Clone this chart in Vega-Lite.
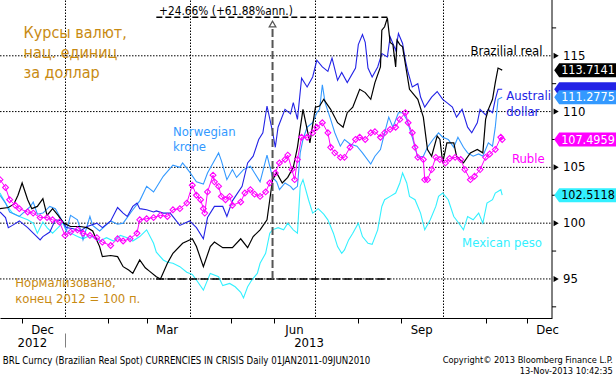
{
 "$schema": "https://vega.github.io/schema/vega-lite/v6.json",
 "width": 552, "height": 318,
 "autosize": {"type": "none"},
 "padding": {"left": 0, "top": 0, "right": 64, "bottom": 62},
 "background": "white",
 "config": {"font": "'DejaVu Sans Condensed', 'DejaVu Sans', sans-serif", "view": {"stroke": null}},
 "resolve": {"axis": {"x": "independent"}},
 "datasets": {
  "ts": [
   {"s":"MXN","d":"2012-11-15","v":102.7},{"s":"MXN","d":"2012-11-19","v":101.8},{"s":"MXN","d":"2012-11-21","v":101.4},{"s":"MXN","d":"2012-11-24","v":100.9},{"s":"MXN","d":"2012-11-29","v":100.6},{"s":"MXN","d":"2012-12-05","v":100.3},{"s":"MXN","d":"2012-12-09","v":100.0},{"s":"MXN","d":"2012-12-12","v":99.1},{"s":"MXN","d":"2012-12-16","v":100.1},{"s":"MXN","d":"2012-12-19","v":99.6},{"s":"MXN","d":"2012-12-23","v":99.1},{"s":"MXN","d":"2012-12-27","v":99.6},{"s":"MXN","d":"2012-12-31","v":100.1},{"s":"MXN","d":"2013-01-02","v":99.3},{"s":"MXN","d":"2013-01-10","v":98.8},{"s":"MXN","d":"2013-01-14","v":98.6},{"s":"MXN","d":"2013-01-19","v":98.9},{"s":"MXN","d":"2013-01-26","v":98.4},{"s":"MXN","d":"2013-01-31","v":98.7},{"s":"MXN","d":"2013-02-05","v":98.4},{"s":"MXN","d":"2013-02-10","v":98.9},{"s":"MXN","d":"2013-02-15","v":98.7},{"s":"MXN","d":"2013-02-19","v":98.4},{"s":"MXN","d":"2013-02-24","v":98.8},{"s":"MXN","d":"2013-03-01","v":99.4},{"s":"MXN","d":"2013-03-06","v":98.2},{"s":"MXN","d":"2013-03-08","v":97.4},{"s":"MXN","d":"2013-03-13","v":96.7},{"s":"MXN","d":"2013-03-16","v":96.5},{"s":"MXN","d":"2013-03-20","v":96.4},{"s":"MXN","d":"2013-03-25","v":96.1},{"s":"MXN","d":"2013-03-30","v":95.6},{"s":"MXN","d":"2013-04-03","v":95.4},{"s":"MXN","d":"2013-04-06","v":94.9},{"s":"MXN","d":"2013-04-11","v":94.0},{"s":"MXN","d":"2013-04-16","v":95.5},{"s":"MXN","d":"2013-04-22","v":95.2},{"s":"MXN","d":"2013-04-25","v":94.4},{"s":"MXN","d":"2013-04-30","v":94.6},{"s":"MXN","d":"2013-05-04","v":94.3},{"s":"MXN","d":"2013-05-08","v":93.8},{"s":"MXN","d":"2013-05-10","v":93.3},{"s":"MXN","d":"2013-05-13","v":94.3},{"s":"MXN","d":"2013-05-16","v":94.9},{"s":"MXN","d":"2013-05-20","v":95.5},{"s":"MXN","d":"2013-05-22","v":96.4},{"s":"MXN","d":"2013-05-26","v":97.3},{"s":"MXN","d":"2013-05-29","v":99.1},{"s":"MXN","d":"2013-05-31","v":99.4},{"s":"MXN","d":"2013-06-04","v":99.6},{"s":"MXN","d":"2013-06-08","v":99.4},{"s":"MXN","d":"2013-06-11","v":100.0},{"s":"MXN","d":"2013-06-15","v":99.4},{"s":"MXN","d":"2013-06-18","v":99.1},{"s":"MXN","d":"2013-06-20","v":103.3},{"s":"MXN","d":"2013-06-22","v":103.9},{"s":"MXN","d":"2013-06-26","v":102.1},{"s":"MXN","d":"2013-06-29","v":100.9},{"s":"MXN","d":"2013-07-03","v":101.3},{"s":"MXN","d":"2013-07-07","v":100.8},{"s":"MXN","d":"2013-07-10","v":100.3},{"s":"MXN","d":"2013-07-14","v":99.1},{"s":"MXN","d":"2013-07-17","v":97.9},{"s":"MXN","d":"2013-07-20","v":97.3},{"s":"MXN","d":"2013-07-22","v":97.6},{"s":"MXN","d":"2013-07-25","v":98.5},{"s":"MXN","d":"2013-07-28","v":99.1},{"s":"MXN","d":"2013-08-01","v":100.0},{"s":"MXN","d":"2013-08-04","v":98.8},{"s":"MXN","d":"2013-08-08","v":98.2},{"s":"MXN","d":"2013-08-11","v":98.1},{"s":"MXN","d":"2013-08-15","v":99.4},{"s":"MXN","d":"2013-08-18","v":101.5},{"s":"MXN","d":"2013-08-20","v":102.1},{"s":"MXN","d":"2013-08-24","v":102.4},{"s":"MXN","d":"2013-08-28","v":102.7},{"s":"MXN","d":"2013-08-31","v":103.6},{"s":"MXN","d":"2013-09-02","v":104.5},{"s":"MXN","d":"2013-09-05","v":103.6},{"s":"MXN","d":"2013-09-07","v":102.4},{"s":"MXN","d":"2013-09-11","v":102.1},{"s":"MXN","d":"2013-09-15","v":100.9},{"s":"MXN","d":"2013-09-18","v":99.4},{"s":"MXN","d":"2013-09-22","v":100.3},{"s":"MXN","d":"2013-09-26","v":101.5},{"s":"MXN","d":"2013-09-28","v":102.4},{"s":"MXN","d":"2013-10-01","v":102.7},{"s":"MXN","d":"2013-10-05","v":102.1},{"s":"MXN","d":"2013-10-09","v":100.6},{"s":"MXN","d":"2013-10-12","v":100.1},{"s":"MXN","d":"2013-10-16","v":99.4},{"s":"MXN","d":"2013-10-19","v":100.6},{"s":"MXN","d":"2013-10-23","v":100.3},{"s":"MXN","d":"2013-10-27","v":100.9},{"s":"MXN","d":"2013-10-30","v":100.0},{"s":"MXN","d":"2013-11-02","v":101.8},{"s":"MXN","d":"2013-11-06","v":102.1},{"s":"MXN","d":"2013-11-08","v":102.7},{"s":"MXN","d":"2013-11-12","v":103.0},{"s":"MXN","d":"2013-11-13","v":102.5118},

   {"s":"NOK","d":"2012-11-15","v":102.5},{"s":"NOK","d":"2012-11-19","v":101.8},{"s":"NOK","d":"2012-11-22","v":101.0},{"s":"NOK","d":"2012-11-29","v":100.6},{"s":"NOK","d":"2012-12-07","v":101.5},{"s":"NOK","d":"2012-12-09","v":101.9},{"s":"NOK","d":"2012-12-12","v":100.8},{"s":"NOK","d":"2012-12-16","v":100.9},{"s":"NOK","d":"2012-12-21","v":101.5},{"s":"NOK","d":"2012-12-25","v":101.3},{"s":"NOK","d":"2012-12-30","v":100.2},{"s":"NOK","d":"2013-01-02","v":99.3},{"s":"NOK","d":"2013-01-05","v":100.7},{"s":"NOK","d":"2013-01-10","v":100.3},{"s":"NOK","d":"2013-01-12","v":99.5},{"s":"NOK","d":"2013-01-14","v":98.5},{"s":"NOK","d":"2013-01-19","v":100.6},{"s":"NOK","d":"2013-01-21","v":99.8},{"s":"NOK","d":"2013-01-26","v":99.3},{"s":"NOK","d":"2013-02-03","v":100.2},{"s":"NOK","d":"2013-02-08","v":99.9},{"s":"NOK","d":"2013-02-12","v":100.0},{"s":"NOK","d":"2013-02-19","v":101.2},{"s":"NOK","d":"2013-02-24","v":102.0},{"s":"NOK","d":"2013-03-01","v":103.3},{"s":"NOK","d":"2013-03-06","v":102.8},{"s":"NOK","d":"2013-03-13","v":104.2},{"s":"NOK","d":"2013-03-20","v":105.2},{"s":"NOK","d":"2013-03-25","v":105.0},{"s":"NOK","d":"2013-03-27","v":105.4},{"s":"NOK","d":"2013-04-01","v":104.6},{"s":"NOK","d":"2013-04-06","v":103.7},{"s":"NOK","d":"2013-04-11","v":103.5},{"s":"NOK","d":"2013-04-14","v":104.5},{"s":"NOK","d":"2013-04-18","v":105.4},{"s":"NOK","d":"2013-04-22","v":106.3},{"s":"NOK","d":"2013-04-24","v":105.6},{"s":"NOK","d":"2013-04-28","v":103.9},{"s":"NOK","d":"2013-05-02","v":104.8},{"s":"NOK","d":"2013-05-05","v":104.1},{"s":"NOK","d":"2013-05-10","v":104.8},{"s":"NOK","d":"2013-05-15","v":105.1},{"s":"NOK","d":"2013-05-18","v":104.5},{"s":"NOK","d":"2013-05-22","v":103.7},{"s":"NOK","d":"2013-05-27","v":106.1},{"s":"NOK","d":"2013-05-31","v":104.1},{"s":"NOK","d":"2013-06-03","v":103.7},{"s":"NOK","d":"2013-06-05","v":103.0},{"s":"NOK","d":"2013-06-09","v":103.6},{"s":"NOK","d":"2013-06-13","v":103.3},{"s":"NOK","d":"2013-06-15","v":103.0},{"s":"NOK","d":"2013-06-18","v":103.3},{"s":"NOK","d":"2013-06-20","v":106.3},{"s":"NOK","d":"2013-06-22","v":107.5},{"s":"NOK","d":"2013-06-25","v":108.6},{"s":"NOK","d":"2013-06-29","v":109.0},{"s":"NOK","d":"2013-07-02","v":109.9},{"s":"NOK","d":"2013-07-04","v":110.2},{"s":"NOK","d":"2013-07-06","v":112.4},{"s":"NOK","d":"2013-07-08","v":110.8},{"s":"NOK","d":"2013-07-12","v":109.3},{"s":"NOK","d":"2013-07-15","v":108.1},{"s":"NOK","d":"2013-07-19","v":106.9},{"s":"NOK","d":"2013-07-22","v":107.5},{"s":"NOK","d":"2013-07-26","v":107.1},{"s":"NOK","d":"2013-07-31","v":106.9},{"s":"NOK","d":"2013-08-04","v":106.3},{"s":"NOK","d":"2013-08-10","v":105.3},{"s":"NOK","d":"2013-08-13","v":106.0},{"s":"NOK","d":"2013-08-17","v":106.6},{"s":"NOK","d":"2013-08-20","v":108.1},{"s":"NOK","d":"2013-08-23","v":109.5},{"s":"NOK","d":"2013-08-26","v":108.6},{"s":"NOK","d":"2013-08-30","v":109.9},{"s":"NOK","d":"2013-09-02","v":109.9},{"s":"NOK","d":"2013-09-05","v":109.3},{"s":"NOK","d":"2013-09-09","v":107.7},{"s":"NOK","d":"2013-09-11","v":106.8},{"s":"NOK","d":"2013-09-13","v":105.9},{"s":"NOK","d":"2013-09-17","v":106.0},{"s":"NOK","d":"2013-09-20","v":106.8},{"s":"NOK","d":"2013-09-24","v":107.5},{"s":"NOK","d":"2013-09-28","v":108.1},{"s":"NOK","d":"2013-10-01","v":107.7},{"s":"NOK","d":"2013-10-05","v":107.5},{"s":"NOK","d":"2013-10-09","v":106.8},{"s":"NOK","d":"2013-10-12","v":107.7},{"s":"NOK","d":"2013-10-16","v":106.8},{"s":"NOK","d":"2013-10-19","v":106.3},{"s":"NOK","d":"2013-10-23","v":106.0},{"s":"NOK","d":"2013-10-27","v":106.2},{"s":"NOK","d":"2013-10-30","v":106.0},{"s":"NOK","d":"2013-11-03","v":107.2},{"s":"NOK","d":"2013-11-06","v":106.9},{"s":"NOK","d":"2013-11-08","v":108.6},{"s":"NOK","d":"2013-11-10","v":111.1},{"s":"NOK","d":"2013-11-13","v":111.2775},

   {"s":"AUD","d":"2012-11-15","v":101.0},{"s":"AUD","d":"2012-11-19","v":100.5},{"s":"AUD","d":"2012-11-21","v":99.6},{"s":"AUD","d":"2012-11-24","v":99.8},{"s":"AUD","d":"2012-11-29","v":100.2},{"s":"AUD","d":"2012-12-05","v":99.6},{"s":"AUD","d":"2012-12-09","v":99.1},{"s":"AUD","d":"2012-12-14","v":98.5},{"s":"AUD","d":"2012-12-16","v":98.8},{"s":"AUD","d":"2012-12-21","v":99.2},{"s":"AUD","d":"2012-12-25","v":100.3},{"s":"AUD","d":"2012-12-30","v":100.2},{"s":"AUD","d":"2013-01-02","v":99.6},{"s":"AUD","d":"2013-01-07","v":99.5},{"s":"AUD","d":"2013-01-12","v":99.3},{"s":"AUD","d":"2013-01-17","v":99.7},{"s":"AUD","d":"2013-01-24","v":100.0},{"s":"AUD","d":"2013-01-28","v":99.6},{"s":"AUD","d":"2013-02-03","v":100.2},{"s":"AUD","d":"2013-02-08","v":101.4},{"s":"AUD","d":"2013-02-12","v":100.9},{"s":"AUD","d":"2013-02-15","v":100.6},{"s":"AUD","d":"2013-02-19","v":101.5},{"s":"AUD","d":"2013-02-22","v":101.8},{"s":"AUD","d":"2013-02-24","v":101.3},{"s":"AUD","d":"2013-03-01","v":101.2},{"s":"AUD","d":"2013-03-06","v":101.0},{"s":"AUD","d":"2013-03-08","v":101.1},{"s":"AUD","d":"2013-03-13","v":100.9},{"s":"AUD","d":"2013-03-18","v":100.9},{"s":"AUD","d":"2013-03-25","v":99.8},{"s":"AUD","d":"2013-04-01","v":100.2},{"s":"AUD","d":"2013-04-06","v":99.6},{"s":"AUD","d":"2013-04-11","v":98.6},{"s":"AUD","d":"2013-04-14","v":100.5},{"s":"AUD","d":"2013-04-19","v":101.5},{"s":"AUD","d":"2013-04-25","v":101.5},{"s":"AUD","d":"2013-04-28","v":100.6},{"s":"AUD","d":"2013-05-02","v":102.0},{"s":"AUD","d":"2013-05-09","v":103.3},{"s":"AUD","d":"2013-05-13","v":105.4},{"s":"AUD","d":"2013-05-17","v":106.0},{"s":"AUD","d":"2013-05-21","v":107.5},{"s":"AUD","d":"2013-05-24","v":108.1},{"s":"AUD","d":"2013-05-27","v":110.5},{"s":"AUD","d":"2013-05-31","v":108.2},{"s":"AUD","d":"2013-06-02","v":106.8},{"s":"AUD","d":"2013-06-04","v":108.6},{"s":"AUD","d":"2013-06-09","v":110.2},{"s":"AUD","d":"2013-06-13","v":109.8},{"s":"AUD","d":"2013-06-15","v":110.8},{"s":"AUD","d":"2013-06-18","v":109.3},{"s":"AUD","d":"2013-06-21","v":113.0},{"s":"AUD","d":"2013-06-25","v":112.2},{"s":"AUD","d":"2013-06-29","v":113.1},{"s":"AUD","d":"2013-07-02","v":114.6},{"s":"AUD","d":"2013-07-06","v":114.0},{"s":"AUD","d":"2013-07-10","v":113.6},{"s":"AUD","d":"2013-07-13","v":114.8},{"s":"AUD","d":"2013-07-17","v":112.8},{"s":"AUD","d":"2013-07-20","v":113.5},{"s":"AUD","d":"2013-07-24","v":112.6},{"s":"AUD","d":"2013-07-30","v":113.9},{"s":"AUD","d":"2013-08-01","v":116.0},{"s":"AUD","d":"2013-08-04","v":116.9},{"s":"AUD","d":"2013-08-06","v":116.2},{"s":"AUD","d":"2013-08-08","v":113.9},{"s":"AUD","d":"2013-08-11","v":113.1},{"s":"AUD","d":"2013-08-15","v":114.0},{"s":"AUD","d":"2013-08-18","v":115.2},{"s":"AUD","d":"2013-08-22","v":114.9},{"s":"AUD","d":"2013-08-24","v":116.7},{"s":"AUD","d":"2013-08-28","v":115.5},{"s":"AUD","d":"2013-08-30","v":117.0},{"s":"AUD","d":"2013-09-02","v":116.1},{"s":"AUD","d":"2013-09-04","v":114.6},{"s":"AUD","d":"2013-09-06","v":113.5},{"s":"AUD","d":"2013-09-09","v":112.2},{"s":"AUD","d":"2013-09-13","v":112.5},{"s":"AUD","d":"2013-09-15","v":111.3},{"s":"AUD","d":"2013-09-18","v":110.4},{"s":"AUD","d":"2013-09-23","v":111.3},{"s":"AUD","d":"2013-09-27","v":111.8},{"s":"AUD","d":"2013-10-01","v":111.1},{"s":"AUD","d":"2013-10-04","v":110.8},{"s":"AUD","d":"2013-10-08","v":110.4},{"s":"AUD","d":"2013-10-11","v":109.5},{"s":"AUD","d":"2013-10-15","v":110.2},{"s":"AUD","d":"2013-10-19","v":108.6},{"s":"AUD","d":"2013-10-22","v":108.1},{"s":"AUD","d":"2013-10-26","v":109.0},{"s":"AUD","d":"2013-10-28","v":110.2},{"s":"AUD","d":"2013-11-01","v":109.7},{"s":"AUD","d":"2013-11-03","v":110.2},{"s":"AUD","d":"2013-11-06","v":109.9},{"s":"AUD","d":"2013-11-08","v":111.1},{"s":"AUD","d":"2013-11-10","v":112.0},{"s":"AUD","d":"2013-11-13","v":112.0},

   {"s":"BRL","d":"2012-11-15","v":101.3},{"s":"BRL","d":"2012-11-21","v":101.4},{"s":"BRL","d":"2012-11-25","v":101.7},{"s":"BRL","d":"2012-11-28","v":102.5},{"s":"BRL","d":"2012-12-01","v":103.6},{"s":"BRL","d":"2012-12-05","v":102.1},{"s":"BRL","d":"2012-12-08","v":101.3},{"s":"BRL","d":"2012-12-12","v":101.5},{"s":"BRL","d":"2012-12-16","v":102.2},{"s":"BRL","d":"2012-12-19","v":100.7},{"s":"BRL","d":"2012-12-23","v":101.3},{"s":"BRL","d":"2012-12-27","v":100.7},{"s":"BRL","d":"2012-12-31","v":100.0},{"s":"BRL","d":"2013-01-05","v":99.7},{"s":"BRL","d":"2013-01-12","v":99.7},{"s":"BRL","d":"2013-01-17","v":99.6},{"s":"BRL","d":"2013-01-21","v":99.3},{"s":"BRL","d":"2013-01-26","v":97.9},{"s":"BRL","d":"2013-01-28","v":97.0},{"s":"BRL","d":"2013-02-03","v":97.1},{"s":"BRL","d":"2013-02-08","v":97.0},{"s":"BRL","d":"2013-02-12","v":96.1},{"s":"BRL","d":"2013-02-16","v":95.8},{"s":"BRL","d":"2013-02-19","v":95.5},{"s":"BRL","d":"2013-02-24","v":96.7},{"s":"BRL","d":"2013-02-28","v":96.0},{"s":"BRL","d":"2013-03-03","v":95.7},{"s":"BRL","d":"2013-03-08","v":95.2},{"s":"BRL","d":"2013-03-11","v":95.0},{"s":"BRL","d":"2013-03-16","v":96.4},{"s":"BRL","d":"2013-03-20","v":97.3},{"s":"BRL","d":"2013-03-27","v":98.2},{"s":"BRL","d":"2013-04-03","v":98.6},{"s":"BRL","d":"2013-04-06","v":97.9},{"s":"BRL","d":"2013-04-11","v":96.1},{"s":"BRL","d":"2013-04-16","v":97.9},{"s":"BRL","d":"2013-04-19","v":98.3},{"s":"BRL","d":"2013-04-25","v":97.8},{"s":"BRL","d":"2013-05-02","v":97.8},{"s":"BRL","d":"2013-05-08","v":98.6},{"s":"BRL","d":"2013-05-13","v":97.8},{"s":"BRL","d":"2013-05-17","v":98.8},{"s":"BRL","d":"2013-05-22","v":99.4},{"s":"BRL","d":"2013-05-27","v":100.3},{"s":"BRL","d":"2013-05-29","v":102.1},{"s":"BRL","d":"2013-05-31","v":103.9},{"s":"BRL","d":"2013-06-03","v":104.5},{"s":"BRL","d":"2013-06-07","v":103.6},{"s":"BRL","d":"2013-06-11","v":104.1},{"s":"BRL","d":"2013-06-15","v":105.0},{"s":"BRL","d":"2013-06-18","v":106.8},{"s":"BRL","d":"2013-06-22","v":110.2},{"s":"BRL","d":"2013-06-25","v":108.4},{"s":"BRL","d":"2013-06-27","v":107.2},{"s":"BRL","d":"2013-07-01","v":110.4},{"s":"BRL","d":"2013-07-04","v":110.5},{"s":"BRL","d":"2013-07-07","v":111.1},{"s":"BRL","d":"2013-07-12","v":110.2},{"s":"BRL","d":"2013-07-17","v":109.0},{"s":"BRL","d":"2013-07-21","v":108.6},{"s":"BRL","d":"2013-07-24","v":109.9},{"s":"BRL","d":"2013-07-28","v":110.4},{"s":"BRL","d":"2013-08-02","v":112.0},{"s":"BRL","d":"2013-08-06","v":111.7},{"s":"BRL","d":"2013-08-10","v":111.1},{"s":"BRL","d":"2013-08-13","v":112.6},{"s":"BRL","d":"2013-08-17","v":114.0},{"s":"BRL","d":"2013-08-18","v":117.3},{"s":"BRL","d":"2013-08-20","v":117.6},{"s":"BRL","d":"2013-08-22","v":118.4},{"s":"BRL","d":"2013-08-24","v":116.2},{"s":"BRL","d":"2013-08-26","v":116.0},{"s":"BRL","d":"2013-08-28","v":114.0},{"s":"BRL","d":"2013-08-29","v":116.4},{"s":"BRL","d":"2013-08-31","v":116.0},{"s":"BRL","d":"2013-09-02","v":115.8},{"s":"BRL","d":"2013-09-05","v":113.5},{"s":"BRL","d":"2013-09-07","v":112.0},{"s":"BRL","d":"2013-09-13","v":111.1},{"s":"BRL","d":"2013-09-17","v":109.5},{"s":"BRL","d":"2013-09-20","v":106.6},{"s":"BRL","d":"2013-09-23","v":106.0},{"s":"BRL","d":"2013-09-27","v":107.8},{"s":"BRL","d":"2013-09-29","v":107.5},{"s":"BRL","d":"2013-10-01","v":105.4},{"s":"BRL","d":"2013-10-04","v":107.2},{"s":"BRL","d":"2013-10-09","v":107.2},{"s":"BRL","d":"2013-10-11","v":106.0},{"s":"BRL","d":"2013-10-16","v":105.4},{"s":"BRL","d":"2013-10-21","v":106.3},{"s":"BRL","d":"2013-10-26","v":106.6},{"s":"BRL","d":"2013-10-30","v":106.3},{"s":"BRL","d":"2013-11-01","v":109.3},{"s":"BRL","d":"2013-11-03","v":110.2},{"s":"BRL","d":"2013-11-06","v":111.1},{"s":"BRL","d":"2013-11-08","v":112.6},{"s":"BRL","d":"2013-11-10","v":113.9},{"s":"BRL","d":"2013-11-13","v":113.7141},

   {"s":"RUB","d":"2012-11-15","v":103.9},{"s":"RUB","d":"2012-11-19","v":103.2},{"s":"RUB","d":"2012-11-22","v":102.1},{"s":"RUB","d":"2012-11-26","v":101.6},{"s":"RUB","d":"2012-11-29","v":101.3},{"s":"RUB","d":"2012-12-05","v":101.0},{"s":"RUB","d":"2012-12-09","v":100.9},{"s":"RUB","d":"2012-12-14","v":100.5},{"s":"RUB","d":"2012-12-19","v":100.5},{"s":"RUB","d":"2012-12-23","v":100.3},{"s":"RUB","d":"2012-12-28","v":100.1},{"s":"RUB","d":"2013-01-01","v":98.9},{"s":"RUB","d":"2013-01-05","v":99.2},{"s":"RUB","d":"2013-01-10","v":99.4},{"s":"RUB","d":"2013-01-14","v":99.1},{"s":"RUB","d":"2013-01-19","v":98.9},{"s":"RUB","d":"2013-01-24","v":98.7},{"s":"RUB","d":"2013-01-28","v":98.3},{"s":"RUB","d":"2013-02-03","v":98.0},{"s":"RUB","d":"2013-02-08","v":98.6},{"s":"RUB","d":"2013-02-12","v":98.4},{"s":"RUB","d":"2013-02-17","v":98.6},{"s":"RUB","d":"2013-02-22","v":99.1},{"s":"RUB","d":"2013-02-24","v":100.3},{"s":"RUB","d":"2013-03-01","v":100.4},{"s":"RUB","d":"2013-03-06","v":100.5},{"s":"RUB","d":"2013-03-11","v":100.7},{"s":"RUB","d":"2013-03-16","v":100.6},{"s":"RUB","d":"2013-03-20","v":101.2},{"s":"RUB","d":"2013-03-25","v":101.3},{"s":"RUB","d":"2013-03-30","v":101.8},{"s":"RUB","d":"2013-04-03","v":103.4},{"s":"RUB","d":"2013-04-06","v":102.5},{"s":"RUB","d":"2013-04-09","v":102.1},{"s":"RUB","d":"2013-04-11","v":101.3},{"s":"RUB","d":"2013-04-12","v":100.9},{"s":"RUB","d":"2013-04-14","v":102.8},{"s":"RUB","d":"2013-04-18","v":104.3},{"s":"RUB","d":"2013-04-19","v":103.7},{"s":"RUB","d":"2013-04-22","v":103.3},{"s":"RUB","d":"2013-04-24","v":102.4},{"s":"RUB","d":"2013-04-27","v":102.1},{"s":"RUB","d":"2013-04-30","v":102.4},{"s":"RUB","d":"2013-05-02","v":101.6},{"s":"RUB","d":"2013-05-08","v":101.9},{"s":"RUB","d":"2013-05-11","v":102.7},{"s":"RUB","d":"2013-05-15","v":103.0},{"s":"RUB","d":"2013-05-18","v":102.6},{"s":"RUB","d":"2013-05-22","v":102.4},{"s":"RUB","d":"2013-05-26","v":102.8},{"s":"RUB","d":"2013-05-29","v":103.6},{"s":"RUB","d":"2013-06-02","v":104.5},{"s":"RUB","d":"2013-06-05","v":105.4},{"s":"RUB","d":"2013-06-09","v":105.7},{"s":"RUB","d":"2013-06-11","v":106.1},{"s":"RUB","d":"2013-06-14","v":104.8},{"s":"RUB","d":"2013-06-16","v":103.9},{"s":"RUB","d":"2013-06-18","v":105.7},{"s":"RUB","d":"2013-06-21","v":107.7},{"s":"RUB","d":"2013-06-25","v":107.7},{"s":"RUB","d":"2013-06-29","v":108.1},{"s":"RUB","d":"2013-07-02","v":108.6},{"s":"RUB","d":"2013-07-06","v":109.0},{"s":"RUB","d":"2013-07-10","v":108.1},{"s":"RUB","d":"2013-07-12","v":106.8},{"s":"RUB","d":"2013-07-15","v":106.3},{"s":"RUB","d":"2013-07-19","v":105.9},{"s":"RUB","d":"2013-07-22","v":105.9},{"s":"RUB","d":"2013-07-26","v":106.8},{"s":"RUB","d":"2013-07-30","v":107.5},{"s":"RUB","d":"2013-08-02","v":107.7},{"s":"RUB","d":"2013-08-06","v":107.5},{"s":"RUB","d":"2013-08-10","v":108.1},{"s":"RUB","d":"2013-08-13","v":108.2},{"s":"RUB","d":"2013-08-17","v":107.7},{"s":"RUB","d":"2013-08-20","v":108.1},{"s":"RUB","d":"2013-08-24","v":108.4},{"s":"RUB","d":"2013-08-28","v":108.6},{"s":"RUB","d":"2013-08-31","v":109.3},{"s":"RUB","d":"2013-09-04","v":109.9},{"s":"RUB","d":"2013-09-06","v":109.0},{"s":"RUB","d":"2013-09-09","v":108.1},{"s":"RUB","d":"2013-09-11","v":106.8},{"s":"RUB","d":"2013-09-13","v":105.9},{"s":"RUB","d":"2013-09-17","v":105.7},{"s":"RUB","d":"2013-09-18","v":103.9},{"s":"RUB","d":"2013-09-20","v":103.9},{"s":"RUB","d":"2013-09-23","v":104.8},{"s":"RUB","d":"2013-09-26","v":105.9},{"s":"RUB","d":"2013-09-29","v":105.7},{"s":"RUB","d":"2013-10-03","v":105.4},{"s":"RUB","d":"2013-10-06","v":105.8},{"s":"RUB","d":"2013-10-10","v":105.9},{"s":"RUB","d":"2013-10-14","v":105.7},{"s":"RUB","d":"2013-10-17","v":104.8},{"s":"RUB","d":"2013-10-21","v":103.9},{"s":"RUB","d":"2013-10-24","v":104.2},{"s":"RUB","d":"2013-10-28","v":104.8},{"s":"RUB","d":"2013-11-01","v":105.9},{"s":"RUB","d":"2013-11-04","v":106.2},{"s":"RUB","d":"2013-11-08","v":106.6},{"s":"RUB","d":"2013-11-12","v":107.7},{"s":"RUB","d":"2013-11-13","v":107.4959}
  ],
  "tags": [
   {"s":"AUD","v":112.0},{"s":"BRL","v":113.7141},{"s":"NOK","v":111.2775},{"s":"RUB","v":107.4959},{"s":"MXN","v":102.5118}
  ],
  "ymaj": [{"v":95},{"v":100},{"v":105},{"v":110},{"v":115}],
  "ymin": [{"v":92.5},{"v":97.5},{"v":102.5},{"v":107.5},{"v":112.5},{"v":117.5}]
 },
 "layer": [
  {
   "data": {"name": "ymaj"},
   "mark": {"type": "rule", "color": "black", "strokeWidth": 1, "strokeDash": [1.5, 1.5]},
   "encoding": {
    "x": {"datum": {"year":2012,"month":11,"date":15,"utc":true}, "type": "temporal", "axis": null,
     "scale": {"type": "utc", "nice": false, "domain": [{"year":2012,"month":11,"date":15,"utc":true},{"year":2013,"month":12,"date":19,"utc":true}]}},
    "x2": {"datum": {"year":2013,"month":12,"date":19,"utc":true}},
    "y": {"field": "v", "type": "quantitative", "axis": null,
     "scale": {"domain": [91.5, 120], "nice": false, "zero": false}}
   }
  },
  {
   "data": {"name": "ts"},
   "transform": [{"filter": "datum.s == 'MXN'"}],
   "mark": {"type": "line", "strokeWidth": 1.1},
   "encoding": {
    "x": {"field": "d", "type": "temporal",
     "axis": {"orient": "bottom", "offset": 15, "title": null, "domain": false, "grid": false,
      "values": [{"year":2012,"month":12,"date":8,"utc":true},{"year":2013,"month":1,"date":1,"utc":true},{"year":2013,"month":6,"date":26,"utc":true}],
      "labelExpr": "(utcmonth(datum.value) == 0 && utcdate(datum.value) == 1) ? '' : utcFormat(datum.value, '%Y')",
      "tickSize": 14, "tickColor": "#808080",
      "tickOpacity": {"condition": {"test": "utcmonth(datum.value) == 0 && utcdate(datum.value) == 1", "value": 1}, "value": 0},
      "labelPadding": -11, "labelFontSize": 13, "labelColor": "black", "labelOverlap": false, "labelBound": false, "labelFlush": false}},
    "y": {"field": "v", "type": "quantitative", "axis": null},
    "color": {"field": "s", "type": "nominal", "legend": null,
     "scale": {"domain": ["BRL","AUD","NOK","RUB","MXN"], "range": ["#000000","#2323e6","#3399ff","#ff00ff","#33f0ff"]}}
   }
  },
  {
   "data": {"name": "ts"},
   "transform": [{"filter": "datum.s == 'NOK'"}],
   "mark": {"type": "line", "strokeWidth": 1.1},
   "encoding": {
    "x": {"field": "d", "type": "temporal", "axis": null},
    "y": {"field": "v", "type": "quantitative", "axis": null},
    "color": {"field": "s", "type": "nominal", "legend": null}
   }
  },
  {
   "data": {"name": "ts"},
   "transform": [{"filter": "datum.s == 'AUD'"}],
   "mark": {"type": "line", "strokeWidth": 1.1},
   "encoding": {
    "x": {"field": "d", "type": "temporal", "axis": null},
    "y": {"field": "v", "type": "quantitative", "axis": null},
    "color": {"field": "s", "type": "nominal", "legend": null}
   }
  },
  {
   "data": {"name": "ts"},
   "transform": [{"filter": "datum.s == 'BRL'"}],
   "mark": {"type": "line", "strokeWidth": 1.2},
   "encoding": {
    "x": {"field": "d", "type": "temporal",
     "axis": {"orient": "bottom", "title": null,
      "values": [{"year":2012,"month":12,"date":1,"utc":true},{"year":2013,"month":1,"date":1,"utc":true},{"year":2013,"month":2,"date":1,"utc":true},{"year":2013,"month":3,"date":1,"utc":true},{"year":2013,"month":4,"date":1,"utc":true},{"year":2013,"month":5,"date":1,"utc":true},{"year":2013,"month":6,"date":1,"utc":true},{"year":2013,"month":7,"date":1,"utc":true},{"year":2013,"month":8,"date":1,"utc":true},{"year":2013,"month":9,"date":1,"utc":true},{"year":2013,"month":10,"date":1,"utc":true},{"year":2013,"month":11,"date":1,"utc":true},{"year":2013,"month":12,"date":1,"utc":true}],
      "labelExpr": "indexof([2,5,8,11], utcmonth(datum.value)) >= 0 ? utcFormat(datum.value, '%b') : ''",
      "labelOffset": 20, "labelPadding": 0, "labelFontSize": 13, "labelColor": "black",
      "labelOverlap": false, "labelBound": false, "labelFlush": false,
      "tickSize": 5, "tickColor": "black",
      "tickOpacity": {"condition": {"test": "utcmonth(datum.value) % 3 == 0", "value": 0}, "value": 1},
      "grid": true, "gridColor": "black", "gridDash": [1.5, 1.5],
      "gridOpacity": {"condition": {"test": "utcmonth(datum.value) % 3 == 0", "value": 1}, "value": 0},
      "domain": true, "domainColor": "black"}},
    "y": {"field": "v", "type": "quantitative", "axis": null},
    "color": {"field": "s", "type": "nominal", "legend": null}
   }
  },
  {
   "data": {"name": "ts"},
   "transform": [{"filter": "datum.s == 'RUB'"}],
   "mark": {"type": "line", "strokeWidth": 1},
   "encoding": {
    "x": {"field": "d", "type": "temporal", "axis": null},
    "y": {"field": "v", "type": "quantitative", "axis": null},
    "color": {"field": "s", "type": "nominal", "legend": null}
   }
  },
  {
   "data": {"name": "ts"},
   "transform": [{"filter": "datum.s == 'RUB'"}],
   "mark": {"type": "point", "shape": "diamond", "filled": false, "size": 34, "strokeWidth": 1.1, "opacity": 1},
   "encoding": {
    "x": {"field": "d", "type": "temporal", "axis": null},
    "y": {"field": "v", "type": "quantitative", "axis": null},
    "color": {"field": "s", "type": "nominal", "legend": null}
   }
  },
  {
   "data": {"values": [{}]},
   "mark": {"type": "rule", "color": "black", "strokeWidth": 1},
   "encoding": {
    "x": {"datum": {"year":2013,"month":12,"date":19,"utc":true}, "type": "temporal", "axis": null},
    "y": {"datum": 91.5, "type": "quantitative", "axis": null},
    "y2": {"datum": 120}
   }
  },
  {
   "data": {"name": "ymin"},
   "mark": {"type": "rule", "color": "black", "strokeWidth": 1},
   "encoding": {
    "x": {"datum": {"year":2013,"month":12,"date":19,"utc":true}, "type": "temporal", "axis": null},
    "x2": {"datum": {"year":2013,"month":12,"date":22,"utc":true}},
    "y": {"field": "v", "type": "quantitative", "axis": null}
   }
  },
  {
   "data": {"name": "ymaj"},
   "mark": {"type": "point", "shape": "triangle-right", "filled": true, "size": 36, "opacity": 1, "color": "black"},
   "encoding": {
    "x": {"datum": {"year":2013,"month":12,"date":22,"utc":true}, "type": "temporal", "axis": null},
    "y": {"field": "v", "type": "quantitative", "axis": null}
   }
  },
  {
   "data": {"name": "ymaj"},
   "mark": {"type": "text", "align": "left", "baseline": "middle", "fontSize": 13, "color": "black"},
   "encoding": {
    "x": {"datum": {"year":2013,"month":12,"date":27,"utc":true}, "type": "temporal", "axis": null},
    "y": {"field": "v", "type": "quantitative", "axis": null},
    "text": {"field": "v", "type": "quantitative", "format": "d"}
   }
  },
  {
   "data": {"name": "tags"},
   "mark": {"type": "point", "shape": "M-1,0L-0.84,-0.226L1,-0.226L1,0.226L-0.84,0.226Z", "filled": true, "size": 3844, "opacity": 1, "strokeWidth": 0},
   "encoding": {
    "x": {"datum": {"year":2014,"month":1,"date":12,"utc":true}, "type": "temporal", "axis": null},
    "y": {"field": "v", "type": "quantitative", "axis": null},
    "color": {"field": "s", "type": "nominal", "legend": null}
   }
  },
  {
   "data": {"name": "tags"},
   "transform": [{"filter": "datum.s != 'AUD'"}],
   "mark": {"type": "text", "align": "center", "baseline": "middle", "fontSize": 12.5},
   "encoding": {
    "x": {"datum": {"year":2014,"month":1,"date":14,"utc":true}, "type": "temporal", "axis": null},
    "y": {"field": "v", "type": "quantitative", "axis": null},
    "text": {"field": "v", "type": "quantitative", "format": ".4f"},
    "color": {"condition": {"test": "datum.s == 'MXN'", "value": "black"}, "value": "white"}
   }
  },
  {
   "data": {"values": [{}]},
   "mark": {"type": "rule", "color": "black", "strokeWidth": 1.5, "strokeDash": [6, 3]},
   "encoding": {
    "x": {"datum": {"year":2013,"month":3,"date":8,"utc":true}, "type": "temporal", "axis": null},
    "x2": {"datum": {"year":2013,"month":8,"date":23,"utc":true}},
    "y": {"datum": 118.45, "type": "quantitative", "axis": null}
   }
  },
  {
   "data": {"values": [{}]},
   "mark": {"type": "rule", "color": "black", "strokeWidth": 1.5, "strokeDash": [8, 3]},
   "encoding": {
    "x": {"datum": {"year":2013,"month":3,"date":8,"utc":true}, "type": "temporal", "axis": null},
    "x2": {"datum": {"year":2013,"month":8,"date":24,"utc":true}},
    "y": {"datum": 95, "type": "quantitative", "axis": null}
   }
  },
  {
   "data": {"values": [{}]},
   "mark": {"type": "rule", "color": "#555555", "strokeWidth": 2, "strokeDash": [8, 3]},
   "encoding": {
    "x": {"datum": {"year":2013,"month":5,"date":31,"utc":true}, "type": "temporal", "axis": null},
    "y": {"datum": 95, "type": "quantitative", "axis": null},
    "y2": {"datum": 117.6}
   }
  },
  {
   "data": {"values": [{}]},
   "mark": {"type": "point", "shape": "triangle-up", "filled": false, "size": 45, "opacity": 1, "color": "#555555", "strokeWidth": 1.2},
   "encoding": {
    "x": {"datum": {"year":2013,"month":5,"date":31,"utc":true}, "type": "temporal", "axis": null},
    "y": {"datum": 117.85, "type": "quantitative", "axis": null}
   }
  },
  {
   "data": {"values": [{}]},
   "mark": {"type": "text", "text": "+24.66% (+61.88%ann.)", "align": "left", "baseline": "top", "fontSize": 11.8, "color": "black"},
   "encoding": {
    "x": {"datum": {"year":2013,"month":3,"date":10,"utc":true}, "type": "temporal", "axis": null},
    "y": {"datum": 119.5, "type": "quantitative", "axis": null}
   }
  },
  {
   "data": {"values": [{}]},
   "mark": {"type": "text", "text": "Курсы валют,\nнац. единиц\nза доллар", "lineBreak": "\n", "align": "left", "baseline": "top", "fontSize": 16, "lineHeight": 20, "color": "#c88a12"},
   "encoding": {
    "x": {"datum": {"year":2012,"month":12,"date":2,"utc":true}, "type": "temporal", "axis": null},
    "y": {"datum": 117.75, "type": "quantitative", "axis": null}
   }
  },
  {
   "data": {"values": [{}]},
   "mark": {"type": "text", "text": "Нормализовано,\nконец 2012 = 100 п.", "lineBreak": "\n", "align": "left", "baseline": "top", "fontSize": 13, "lineHeight": 16, "color": "#c88a12"},
   "encoding": {
    "x": {"datum": {"year":2012,"month":11,"date":26,"utc":true}, "type": "temporal", "axis": null},
    "y": {"datum": 95.14, "type": "quantitative", "axis": null}
   }
  },
  {
   "data": {"values": [{}]},
   "mark": {"type": "text", "text": "Brazilial real", "align": "left", "baseline": "top", "fontSize": 13, "color": "#000000"},
   "encoding": {
    "x": {"datum": {"year":2013,"month":10,"date":21,"utc":true}, "type": "temporal", "axis": null},
    "y": {"datum": 115.93, "type": "quantitative", "axis": null}
   }
  },
  {
   "data": {"values": [{}]},
   "mark": {"type": "text", "text": "Australi\ndollar", "lineBreak": "\n", "align": "left", "baseline": "top", "fontSize": 13, "lineHeight": 16, "color": "#2323e6"},
   "encoding": {
    "x": {"datum": {"year":2013,"month":11,"date":16,"utc":true}, "type": "temporal", "axis": null},
    "y": {"datum": 111.9, "type": "quantitative", "axis": null}
   }
  },
  {
   "data": {"values": [{}]},
   "mark": {"type": "text", "text": "Norwegian\nkrone", "lineBreak": "\n", "align": "left", "baseline": "top", "fontSize": 13, "lineHeight": 15, "color": "#3399ff"},
   "encoding": {
    "x": {"datum": {"year":2013,"month":3,"date":20,"utc":true}, "type": "temporal", "axis": null},
    "y": {"datum": 108.67, "type": "quantitative", "axis": null}
   }
  },
  {
   "data": {"values": [{}]},
   "mark": {"type": "text", "text": "Ruble", "align": "left", "baseline": "top", "fontSize": 13, "color": "#ff00ff"},
   "encoding": {
    "x": {"datum": {"year":2013,"month":11,"date":20,"utc":true}, "type": "temporal", "axis": null},
    "y": {"datum": 106.25, "type": "quantitative", "axis": null}
   }
  },
  {
   "data": {"values": [{}]},
   "mark": {"type": "text", "text": "Mexican peso", "align": "left", "baseline": "top", "fontSize": 13, "color": "#33f0ff"},
   "encoding": {
    "x": {"datum": {"year":2013,"month":10,"date":15,"utc":true}, "type": "temporal", "axis": null},
    "y": {"datum": 98.72, "type": "quantitative", "axis": null}
   }
  },
  {
   "data": {"values": [{}]},
   "mark": {"type": "text", "text": "BRL Curncy (Brazilian Real Spot) CURRENCIES IN CRISIS  Daily 01JAN2011-09JUN2010", "align": "left", "baseline": "top", "fontSize": 9.6, "color": "black"},
   "encoding": {
    "x": {"datum": {"year":2012,"month":11,"date":17,"utc":true}, "type": "temporal", "axis": null},
    "y": {"datum": 88.05, "type": "quantitative", "axis": null}
   }
  },
  {
   "data": {"values": [{}]},
   "mark": {"type": "text", "text": "Copyright© 2013 Bloomberg Finance L.P.", "align": "right", "baseline": "top", "fontSize": 9.2, "color": "black"},
   "encoding": {
    "x": {"datum": {"year":2014,"month":2,"date":1,"utc":true}, "type": "temporal", "axis": null},
    "y": {"datum": 88.07, "type": "quantitative", "axis": null}
   }
  },
  {
   "data": {"values": [{}]},
   "mark": {"type": "text", "text": "13-Nov-2013 10:42:35", "align": "right", "baseline": "top", "fontSize": 9.2, "color": "black"},
   "encoding": {
    "x": {"datum": {"year":2014,"month":2,"date":1,"utc":true}, "type": "temporal", "axis": null},
    "y": {"datum": 87.07, "type": "quantitative", "axis": null}
   }
  }
 ]
}
